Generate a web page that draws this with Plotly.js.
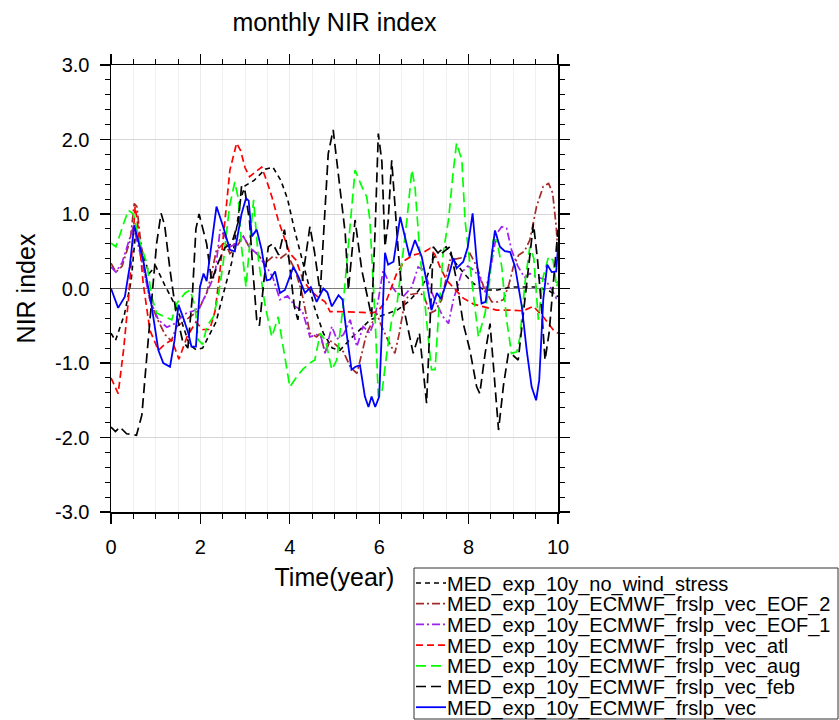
<!DOCTYPE html>
<html>
<head>
<meta charset="utf-8">
<script src="https://cdn.plot.ly/plotly-3.0.1.min.js"></script>
<style>
  html, body { margin: 0; padding: 0; background: #fff; }
  #chart { width: 839px; height: 720px; }
</style>
</head>
<body>
<div id="chart"></div>
<script>
// Monthly NIR index for seven 10-year MED experiments (time in years)

const seriesNames = [
  "MED_exp_10y_no_wind_stress",
  "MED_exp_10y_ECMWF_frslp_vec_EOF_2",
  "MED_exp_10y_ECMWF_frslp_vec_EOF_1",
  "MED_exp_10y_ECMWF_frslp_vec_atl",
  "MED_exp_10y_ECMWF_frslp_vec_aug",
  "MED_exp_10y_ECMWF_frslp_vec_feb",
  "MED_exp_10y_ECMWF_frslp_vec"
];

// no_wind_stress
const tNoWind = [0, 0.1, 0.3, 0.45, 0.55, 0.7, 0.85, 1.0, 1.2, 1.5, 1.75, 1.9, 2.05, 2.2, 2.35, 2.5, 2.7, 2.9, 3.0, 3.2, 3.45, 3.62, 3.8, 3.95, 4.1, 4.25, 4.4, 4.55, 4.75, 4.95, 5.12, 5.4, 5.8, 6.1, 6.4, 6.65, 6.85, 7.05, 7.2, 7.35, 7.5, 7.7, 7.9, 8.1, 8.35, 8.65, 8.95, 9.5, 9.8, 10.0];
const vNoWind = [-0.6, -0.7, -0.35, 0.1, 0.75, 0.5, 0.2, 0.3, 0.05, -0.3, -0.75, -0.82, -0.8, -0.62, -0.45, -0.1, 0.35, 1.2, 1.38, 1.45, 1.6, 1.63, 1.45, 1.2, 0.8, 0.45, 0.1, -0.25, -0.6, -0.8, -0.83, -0.65, -0.42, -0.36, -0.29, -0.18, -0.05, 0.12, 0.4, 0.5, 0.56, 0.35, 0.2, 0.07, -0.02, -0.02, 0.02, 0.02, -0.03, -0.11];

// frslp_vec_EOF_2
const tEof2 = [0, 0.11, 0.25, 0.43, 0.52, 0.58, 0.65, 0.76, 0.87, 1.02, 1.21, 1.35, 1.47, 1.62, 1.77, 1.95, 2.14, 2.25, 2.36, 2.44, 2.55, 2.66, 2.8, 2.96, 3.1, 3.26, 3.45, 3.62, 3.78, 3.93, 4.12, 4.27, 4.45, 4.6, 4.68, 4.79, 4.9, 5.02, 5.2, 5.35, 5.5, 5.6, 5.72, 5.85, 5.94, 6.05, 6.2, 6.35, 6.45, 6.58, 6.7, 6.91, 7.0, 7.14, 7.25, 7.4, 7.58, 7.75, 7.9, 8.03, 8.18, 8.35, 8.52, 8.65, 8.78, 8.9, 9.0, 9.12, 9.25, 9.37, 9.52, 9.67, 9.79, 9.88, 9.96, 10.0];
const vEof2 = [0.34, 0.22, 0.3, 0.65, 1.14, 1.1, 0.7, 0.2, -0.15, -0.39, -0.62, -0.7, -0.51, -0.45, -0.38, -0.3, -0.06, 0.2, 0.52, 0.56, 0.62, 0.47, 0.55, 0.7, 0.55, 0.47, 0.34, 0.43, 0.4, 0.47, 0.25, -0.06, -0.6, -0.65, -0.6, -0.87, -0.7, -0.75, -0.85, -1.05, -1.14, -0.9, -0.6, -0.45, -0.33, -0.5, -0.7, -0.87, -0.6, -0.15, -0.08, -0.06, -0.1, -0.33, -0.3, -0.15, 0.38, 0.4, 0.42, 0.47, 0.3, 0.0, -0.18, -0.18, -0.15, 0.05, 0.29, 0.45, 0.5, 0.65, 1.1, 1.37, 1.41, 1.28, 0.83, 0.47];

// frslp_vec_EOF_1
const tEof1 = [0, 0.11, 0.25, 0.39, 0.5, 0.6, 0.72, 0.87, 1.06, 1.25, 1.43, 1.55, 1.69, 1.85, 1.99, 2.15, 2.33, 2.44, 2.55, 2.66, 2.8, 2.96, 3.1, 3.26, 3.48, 3.62, 3.78, 3.95, 4.12, 4.28, 4.45, 4.6, 4.7, 4.79, 4.94, 5.05, 5.2, 5.35, 5.5, 5.64, 5.79, 5.88, 5.98, 6.09, 6.2, 6.39, 6.55, 6.73, 6.87, 7.0, 7.14, 7.28, 7.43, 7.55, 7.66, 7.85, 7.98, 8.11, 8.25, 8.37, 8.5, 8.63, 8.74, 8.85, 8.96, 9.1, 9.25, 9.37, 9.55, 9.71, 9.85, 9.96, 10.0];
const vEof1 = [0.29, 0.22, 0.35, 0.61, 0.83, 0.6, 0.29, -0.15, -0.42, -0.52, -0.47, -0.4, -0.33, -0.3, -0.24, -0.05, 0.2, 0.79, 0.7, 0.56, 0.6, 0.7, 0.55, 0.47, 0.29, 0.15, -0.15, -0.1, -0.24, -0.3, -0.65, -0.62, -0.65, -0.87, -0.51, -0.68, -0.62, -0.42, -0.78, -0.51, -0.6, -0.45, -0.15, 0.25, 0.1, -0.06, -0.1, 0.02, 0.29, 0.25, 0.0, -0.2, -0.38, -0.47, -0.15, 0.22, 0.3, 0.25, 0.15, -0.05, 0.3, 0.74, 0.83, 0.81, 0.52, 0.3, 0.15, 0.2, 0.15, 0.12, 0.0, -0.13, -0.1];

// frslp_vec_atl
const tAtl = [0, 0.16, 0.28, 0.39, 0.47, 0.54, 0.6, 0.72, 0.87, 1.06, 1.2, 1.36, 1.52, 1.7, 1.9, 2.05, 2.21, 2.33, 2.44, 2.55, 2.66, 2.81, 2.9, 3.0, 3.1, 3.2, 3.37, 3.48, 3.6, 3.74, 3.89, 4.0, 4.14, 4.3, 4.45, 4.6, 4.79, 4.9, 5.1, 5.35, 5.6, 5.83, 5.98, 6.17, 6.39, 6.58, 6.76, 6.98, 7.14, 7.25, 7.36, 7.51, 7.7, 7.88, 8.11, 8.33, 8.63, 8.95, 9.22, 9.45, 9.67, 9.9, 10.0];
const vAtl = [-1.2, -1.41, -0.83, -0.15, 0.5, 1.1, 0.85, 0.07, -0.56, -0.83, -0.75, -0.69, -0.95, -0.65, -0.45, -0.55, -0.55, -0.3, 0.25, 0.92, 1.59, 1.95, 1.85, 1.62, 1.5, 1.55, 1.63, 1.45, 1.23, 0.92, 0.65, 0.47, 0.38, 0.11, -0.02, -0.1, -0.18, -0.31, -0.31, -0.31, -0.32, -0.33, -0.3, -0.15, 0.2, 0.38, 0.45, 0.48, 0.54, 0.45, 0.29, 0.11, -0.02, -0.13, -0.21, -0.24, -0.29, -0.29, -0.3, -0.24, -0.38, -0.56, -0.6];

// frslp_vec_aug
const tAug = [0, 0.11, 0.28, 0.39, 0.5, 0.65, 0.8, 0.91, 1.02, 1.21, 1.36, 1.47, 1.66, 1.77, 1.88, 1.95, 2.05, 2.15, 2.29, 2.4, 2.51, 2.65, 2.77, 2.85, 2.92, 3.02, 3.11, 3.19, 3.3, 3.45, 3.6, 3.74, 3.87, 4.0, 4.16, 4.3, 4.45, 4.56, 4.68, 4.8, 4.94, 5.05, 5.18, 5.31, 5.46, 5.61, 5.72, 5.79, 5.91, 5.98, 6.06, 6.17, 6.28, 6.4, 6.5, 6.62, 6.73, 6.8, 6.91, 7.04, 7.17, 7.25, 7.32, 7.43, 7.55, 7.66, 7.73, 7.85, 7.92, 8.07, 8.22, 8.37, 8.48, 8.55, 8.63, 8.74, 8.85, 8.96, 9.08, 9.15, 9.26, 9.37, 9.46, 9.56, 9.67, 9.79, 9.89, 9.97, 10.0];
const vAug = [0.61, 0.56, 0.87, 1.05, 1.0, 0.61, 0.34, -0.11, -0.33, -0.38, -0.42, -0.2, -0.06, -0.02, -0.24, -0.69, -0.75, -0.5, -0.38, -0.1, 0.34, 1.1, 1.43, 1.2, 0.56, 0.02, 0.61, 1.19, 0.38, -0.24, -0.65, -0.38, -0.85, -1.32, -1.18, -1.08, -1.0, -0.96, -0.6, -0.7, -1.09, -0.96, -0.3, 0.56, 1.59, 1.37, 1.23, 0.93, -0.42, -1.45, -1.4, -0.87, -0.42, -0.2, 0.29, 0.92, 1.59, 1.37, 0.47, -0.3, -1.09, -1.09, -0.42, 0.47, 0.92, 1.59, 1.95, 1.72, 0.92, 0.11, -0.65, -0.33, 0.16, 0.65, 0.65, 0.3, -0.42, -0.87, -0.85, -0.65, 0.07, 0.56, 0.4, -0.42, 0.16, 0.43, 0.38, 0.02, 0.1];

// frslp_vec_feb
const tFeb = [0, 0.1, 0.2, 0.35, 0.57, 0.69, 0.8, 0.92, 1.02, 1.12, 1.2, 1.32, 1.45, 1.6, 1.72, 1.82, 1.9, 1.97, 2.14, 2.25, 2.4, 2.55, 2.7, 2.85, 2.92, 3.0, 3.1, 3.18, 3.26, 3.32, 3.42, 3.52, 3.62, 3.75, 3.88, 3.98, 4.1, 4.18, 4.3, 4.45, 4.55, 4.68, 4.78, 4.86, 4.97, 5.12, 5.24, 5.31, 5.46, 5.61, 5.72, 5.83, 5.91, 5.98, 6.06, 6.13, 6.2, 6.28, 6.43, 6.54, 6.76, 6.9, 7.06, 7.21, 7.35, 7.58, 7.73, 7.88, 8.03, 8.18, 8.25, 8.37, 8.48, 8.59, 8.67, 8.78, 8.89, 9.0, 9.11, 9.25, 9.37, 9.45, 9.54, 9.63, 9.71, 9.8, 9.9, 10.0];
const vFeb = [-1.86, -1.92, -1.86, -1.95, -1.97, -1.7, -0.92, -0.15, 0.6, 1.01, 0.85, 0.25, -0.3, -0.7, -0.8, -0.1, 0.8, 1.0, 0.6, 0.1, 0.35, 0.55, 0.6, 0.9, 1.37, 1.3, 0.9, 0.2, -0.42, -0.5, 0.1, 0.56, 0.6, 0.45, 0.79, 0.4, -0.24, -0.42, 0.2, 0.83, 0.5, -0.06, 0.9, 1.81, 2.13, 1.37, 0.74, -0.02, 0.92, 0.25, -0.06, -0.38, 0.8, 2.08, 1.7, 0.56, 0.9, 1.72, 0.47, -0.24, -0.87, -0.6, -1.54, 0.56, 0.45, 0.56, 0.11, -0.47, -0.83, -1.32, -1.41, -0.87, -0.47, -1.32, -1.9, -1.3, -0.87, -0.9, -0.96, -0.2, 0.47, 0.87, 0.4, -0.24, -0.96, -0.6, 0.1, 0.79];

// frslp_vec
const tVec = [0, 0.16, 0.31, 0.42, 0.52, 0.62, 0.72, 0.91, 1.06, 1.17, 1.32, 1.42, 1.51, 1.62, 1.73, 1.8, 1.9, 1.99, 2.07, 2.14, 2.25, 2.36, 2.51, 2.66, 2.77, 2.92, 3.02, 3.08, 3.15, 3.26, 3.37, 3.48, 3.56, 3.67, 3.78, 3.89, 4.08, 4.2, 4.34, 4.47, 4.6, 4.75, 4.84, 4.94, 5.09, 5.18, 5.27, 5.38, 5.47, 5.57, 5.68, 5.76, 5.83, 5.91, 6.0, 6.06, 6.13, 6.2, 6.32, 6.47, 6.58, 6.68, 6.8, 6.95, 7.06, 7.17, 7.29, 7.38, 7.55, 7.66, 7.73, 7.88, 7.98, 8.09, 8.18, 8.29, 8.38, 8.48, 8.59, 8.7, 8.81, 8.93, 9.04, 9.19, 9.3, 9.41, 9.51, 9.58, 9.67, 9.76, 9.86, 9.96, 10.0];
const vVec = [0, -0.26, -0.11, 0.3, 0.85, 0.6, 0.38, -0.24, -0.83, -1.0, -1.05, -0.7, -0.22, -0.4, -0.6, -0.78, -0.78, 0.02, 0.2, 0.1, 0.6, 1.1, 0.83, 0.52, 0.5, 1.0, 1.21, 1.18, 0.7, 0.79, 0.52, 0.11, 0.12, 0.23, -0.06, -0.02, 0.29, 0.15, -0.06, 0.02, -0.18, 0, -0.05, -0.24, -0.09, -0.15, -0.6, -1.09, -1.05, -1.03, -1.45, -1.59, -1.45, -1.59, -1.45, -0.5, 0.48, 0.32, 0.36, 0.96, 0.7, 0.43, 0.65, 0.43, 0.1, -0.29, -0.06, -0.14, 0.16, 0.41, 0.27, 0.36, 0.55, 1.01, 0.38, -0.2, -0.18, 0.25, 0.78, 0.56, 0.5, 0.49, 0.29, -0.24, -0.83, -1.32, -1.5, -1.23, -0.15, 0.32, 0.22, 0.23, 0.56];

const xTickVals = [0, 2, 4, 6, 8, 10];
const yTickVals = [-3, -2, -1, 0, 1, 2, 3];

// line styles, one per experiment (same order as seriesNames)
const lineStyles = [
  { color: "#000000", dash: "5px,4px",          width: 1.6 },
  { color: "#a52a2a", dash: "8px,3px,2px,3px",  width: 1.7 },
  { color: "#a020f0", dash: "8px,3px,2px,3px",  width: 1.7 },
  { color: "#ff0000", dash: "7px,4px",          width: 1.7 },
  { color: "#00ff00", dash: "10px,5px",         width: 1.7 },
  { color: "#000000", dash: "10px,5px",         width: 1.7 },
  { color: "#0000ff", dash: "solid",            width: 1.8 }
];

const xs = [tNoWind, tEof2, tEof1, tAtl, tAug, tFeb, tVec];
const ys = [vNoWind, vEof2, vEof1, vAtl, vAug, vFeb, vVec];

const FONT = "Liberation Sans, Arial, Helvetica, sans-serif";

// plot area geometry (pixels)
const W = 839, H = 720;
const M = { l: 111, r: 281, t: 65, b: 208 };
const plotW = W - M.l - M.r, plotH = H - M.t - M.b;
const px2x = px => (px - M.l) / plotW;
const px2y = py => (H - M.b - py) / plotH;

const traces = seriesNames.map((name, i) => ({
  type: "scatter",
  mode: "lines",
  name: name,
  x: xs[i],
  y: ys[i],
  line: { color: lineStyles[i].color, dash: lineStyles[i].dash, width: lineStyles[i].width },
  showlegend: false,
  hoverinfo: "skip"
}));

// legend box, drawn in paper coordinates below-right of the plot
const shapes = [{
  type: "rect", xref: "paper", yref: "paper",
  x0: px2x(414), x1: px2x(838), y0: px2y(568), y1: px2y(719),
  line: { color: "#333", width: 1 }, fillcolor: "rgba(0,0,0,0)"
}];
const annotations = [];
const rowTop = 583, rowStep = 20.7;
seriesNames.forEach((name, i) => {
  const yc = rowTop + i * rowStep;
  shapes.push({
    type: "line", xref: "paper", yref: "paper",
    x0: px2x(416), x1: px2x(446), y0: px2y(yc), y1: px2y(yc),
    line: { color: lineStyles[i].color, dash: lineStyles[i].dash, width: lineStyles[i].width }
  });
  annotations.push({
    xref: "paper", yref: "paper", x: px2x(445), y: px2y(yc + 1),
    xanchor: "left", yanchor: "middle", showarrow: false,
    text: name, font: { family: FONT, size: 20, color: "#000" }
  });
});

const layout = {
  width: W, height: H,
  margin: M,
  paper_bgcolor: "#ffffff",
  plot_bgcolor: "#ffffff",
  showlegend: false,
  font: { family: FONT, color: "#000" },
  title: {
    text: "monthly NIR index",
    font: { family: FONT, size: 25, color: "#000" },
    xref: "paper", x: 0.5, xanchor: "center",
    yref: "container", y: 1 - 22 / H, yanchor: "middle"
  },
  xaxis: {
    range: [0, 10],
    tickmode: "array", tickvals: xTickVals, ticktext: xTickVals.map(String),
    ticks: "outside", ticklen: 10, tickwidth: 1.2, tickcolor: "#000",
    tickfont: { family: FONT, size: 20, color: "#000" },
    ticklabelstandoff: 6,
    showline: true, linecolor: "#000", linewidth: 1.5, mirror: "allticks",
    showgrid: true, gridcolor: "#ececec", gridwidth: 1,
    zeroline: false,
    minor: { dtick: 0.5, tick0: 0, ticks: "outside", ticklen: 5, tickwidth: 1, tickcolor: "#000",
             showgrid: true, gridcolor: "#f0f0f0", gridwidth: 1 },
    title: { text: "Time(year)", font: { family: FONT, size: 25, color: "#000" }, standoff: 12 },
    automargin: false
  },
  yaxis: {
    range: [-3, 3],
    tickmode: "array", tickvals: yTickVals, ticktext: yTickVals.map(v => v.toFixed(1)),
    ticks: "outside", ticklen: 10, tickwidth: 1.2, tickcolor: "#000",
    tickfont: { family: FONT, size: 20, color: "#000" },
    ticklabelstandoff: 6,
    showline: true, linecolor: "#000", linewidth: 1.5, mirror: "allticks",
    showgrid: true, gridcolor: "#d6d6d6", gridwidth: 1,
    zeroline: true, zerolinecolor: "#7a7a7a", zerolinewidth: 1.2,
    minor: { dtick: 0.2, tick0: 0, ticks: "outside", ticklen: 5, tickwidth: 1, tickcolor: "#000", showgrid: false },
    title: { text: "NIR index", font: { family: FONT, size: 25, color: "#000" }, standoff: 12 },
    automargin: false
  },
  shapes: shapes,
  annotations: annotations
};

Plotly.newPlot("chart", traces, layout, { displayModeBar: false, staticPlot: true });
</script>
</body>
</html>
